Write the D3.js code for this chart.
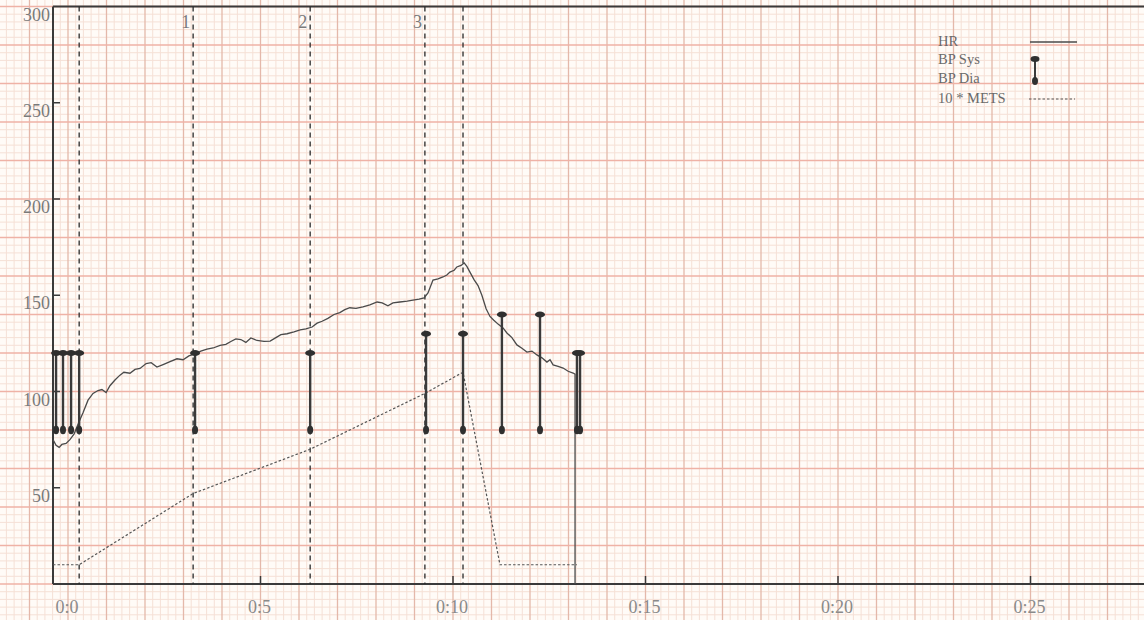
<!DOCTYPE html>
<html>
<head>
<meta charset="utf-8">
<script src="https://cdn.jsdelivr.net/npm/d3@7"></script>
<style>
  html, body { margin: 0; padding: 0; background: #fffbf7; }
  svg { display: block; }
  text { font-family: "Liberation Serif", "DejaVu Serif", serif; }
</style>
</head>
<body>
<svg id="chart" width="1144" height="620"></svg>
<script>
// ---- Data ----
const hrTime = [-0.39,-0.31,-0.23,-0.16,-0.05,0.05,0.16,0.26,0.39,0.52,0.65,0.78,0.88,0.99,1.09,1.22,1.35,1.45,1.61,1.74,1.87,2.03,2.16,2.31,2.47,2.65,2.83,2.99,3.14,3.30,3.45,3.61,3.77,3.95,4.10,4.23,4.36,4.49,4.62,4.75,4.91,5.09,5.25,5.40,5.53,5.69,5.87,6.03,6.18,6.34,6.47,6.60,6.75,6.91,7.06,7.19,7.32,7.48,7.66,7.84,8.03,8.16,8.31,8.44,8.62,8.81,8.96,9.12,9.25,9.35,9.48,9.61,9.74,9.84,9.92,10.03,10.10,10.21,10.29,10.36,10.44,10.55,10.65,10.75,10.86,10.96,11.06,11.17,11.30,11.40,11.53,11.66,11.79,11.92,12.05,12.18,12.31,12.44,12.52,12.60,12.73,12.86,12.99,13.12,13.17,13.17];
const hrValue = [75,72,71,72.5,73,75,78,83,89,95.5,99,100.5,101,99.5,103,106,108.5,110,109.5,111.5,112,114.5,115,112.7,114,115.5,117,116.5,118.5,119.5,121,122,122.6,124,124.5,126,127.3,127,125.5,127.8,126.5,126,126.2,128,129.5,130,131,132,132.5,133.5,135.5,136.5,138,140,141,142.5,143.5,143.2,144,145,146.5,146,144.5,146,146.5,147,147.5,148,148.6,151.2,157.9,158.5,159.5,160.5,162,163,164.7,165.5,166.8,165,162,158,155,150,143,139,137,135,133,130.4,128,124.2,122.5,120.5,121,119,117.5,115.3,116.5,113.8,113,112.2,110.5,109.6,109,0];

const metsTime = [-0.39, 0.29, 3.25, 6.29, 9.27, 10.26, 11.22, 13.22];
const metsValue = [10, 10, 47, 70, 99, 110, 10, 10];   // 10 * METS

const bpTime = [-0.31, -0.13, 0.08, 0.29, 3.30, 6.29, 9.30, 10.26, 11.27, 12.26, 13.22, 13.30];
const bpSys  = [120, 120, 120, 120, 120, 120, 130, 130, 140, 140, 120, 120];
const bpDia  = [80, 80, 80, 80, 80, 80, 80, 80, 80, 80, 80, 80];

const stageTimes  = [0.29, 3.25, 6.29, 9.27, 10.26];
const stageLabels = ["", "1", "2", "3", ""];

const yTicks = [50, 100, 150, 200, 250, 300];
const xTicks = [0, 5, 10, 15, 20, 25];
const xTickLabels = ["0:0", "0:5", "0:10", "0:15", "0:20", "0:25"];

const legendLabels = ["HR", "BP Sys", "BP Dia", "10 * METS"];

// ---- Layout ----
const W = 1144, H = 620;
const x = d3.scaleLinear().domain([0, 25]).range([68, 1030.5]);
const y = d3.scaleLinear().domain([0, 300]).range([584, 6.5]);
const left = 53;

const svg = d3.select("#chart");
svg.append("rect").attr("width", W).attr("height", H).attr("fill", "#fffbf7");

// ---- ECG paper grid ----
const tMin = x.invert(0), tMax = x.invert(W);
const vMin = y.invert(H), vMax = y.invert(0);
const g = svg.append("g");
const vk = d3.range(Math.floor(tMin / 0.2), Math.ceil(tMax / 0.2) + 1);
const hk = d3.range(Math.floor(vMin / 4), Math.ceil(vMax / 4) + 1);
[false, true].forEach(major => {
  g.selectAll(null).data(vk.filter(k => (k % 5 === 0) === major)).enter().append("line")
    .attr("x1", k => x(k * 0.2)).attr("x2", k => x(k * 0.2))
    .attr("y1", 0).attr("y2", H)
    .attr("stroke", major ? "#e4b8aa" : "#f5e0d6").attr("stroke-width", major ? 1.3 : 1);
  g.selectAll(null).data(hk.filter(k => (k % 5 === 0) === major)).enter().append("line")
    .attr("y1", k => y(k * 4)).attr("y2", k => y(k * 4))
    .attr("x1", 0).attr("x2", W)
    .attr("stroke", major ? "#efb2a6" : "#f5e0d6").attr("stroke-width", major ? 1.3 : 1);
});

// ---- Axes frame ----
const axisColor = "#3a3a3a";
svg.append("line").attr("x1", left).attr("x2", W).attr("y1", y(300)).attr("y2", y(300))
  .attr("stroke", axisColor).attr("stroke-width", 2);
svg.append("line").attr("x1", left).attr("x2", left).attr("y1", y(300)).attr("y2", y(0))
  .attr("stroke", axisColor).attr("stroke-width", 2);
svg.append("line").attr("x1", left).attr("x2", W).attr("y1", y(0)).attr("y2", y(0))
  .attr("stroke", axisColor).attr("stroke-width", 2);

// y ticks (inside) and labels
svg.selectAll(".ytick").data(yTicks.filter(v => v < 300)).enter().append("line")
  .attr("x1", left).attr("x2", left + 7).attr("y1", d => y(d)).attr("y2", d => y(d))
  .attr("stroke", axisColor).attr("stroke-width", 1.5);
svg.selectAll(".ylab").data(yTicks).enter().append("text")
  .attr("x", left - 3).attr("y", d => y(d) + 14)
  .attr("text-anchor", "end").attr("font-size", 18).attr("fill", "#7a7a7a")
  .text(d => d);

// x ticks and labels
svg.selectAll(".xtick").data(xTicks.filter(t => t > 0)).enter().append("line")
  .attr("x1", d => x(d)).attr("x2", d => x(d)).attr("y1", y(0) - 8).attr("y2", y(0))
  .attr("stroke", axisColor).attr("stroke-width", 1.5);
svg.selectAll(".xlab").data(xTicks).enter().append("text")
  .attr("x", d => x(d) - 1).attr("y", y(0) + 29)
  .attr("text-anchor", "middle").attr("font-size", 18).attr("fill", "#8a8a8a")
  .text((d, i) => xTickLabels[i]);

// ---- Stage dashed lines ----
svg.selectAll(".stage").data(stageTimes).enter().append("line")
  .attr("x1", d => x(d)).attr("x2", d => x(d)).attr("y1", y(300)).attr("y2", y(0))
  .attr("stroke", "#2a2a2a").attr("stroke-width", 1.3).attr("stroke-dasharray", "5,4");
svg.selectAll(".stlab").data(stageTimes).enter().append("text")
  .attr("x", d => x(d) - 3).attr("y", 28)
  .attr("text-anchor", "end").attr("font-size", 18).attr("fill", "#7a7a7a")
  .text((d, i) => stageLabels[i]);

// ---- METS (dotted) ----
const metsLine = d3.line().x((d, i) => x(metsTime[i])).y(d => y(d));
svg.append("path").attr("d", metsLine(metsValue))
  .attr("fill", "none").attr("stroke", "#555").attr("stroke-width", 1.2)
  .attr("stroke-dasharray", "2.5,2");

// ---- HR line ----
const hrLine = d3.line().x((d, i) => x(hrTime[i])).y(d => y(d));
svg.append("path").attr("d", hrLine(hrValue))
  .attr("fill", "none").attr("stroke", "#4a4a4a").attr("stroke-width", 1.3);

// ---- BP markers ----
const bp = svg.append("g");
bpTime.forEach((t, i) => {
  bp.append("line").attr("x1", x(t)).attr("x2", x(t))
    .attr("y1", y(bpSys[i])).attr("y2", y(bpDia[i]))
    .attr("stroke", "#3a3a3a").attr("stroke-width", 2.4);
});
bpTime.forEach((t, i) => {
  bp.append("ellipse").attr("cx", x(t)).attr("cy", y(bpSys[i]))
    .attr("rx", 5).attr("ry", 3).attr("fill", "#2f2f2f");
  bp.append("ellipse").attr("cx", x(t)).attr("cy", y(bpDia[i]))
    .attr("rx", 3).attr("ry", 4.2).attr("fill", "#2f2f2f");
});

// ---- Legend ----
const lg = svg.append("g");
const lgY = [46, 64, 83, 103];
lg.selectAll("text").data(legendLabels).enter().append("text")
  .attr("x", 938).attr("y", (d, i) => lgY[i])
  .attr("font-size", 14.5).attr("fill", "#6a6a6a").text(d => d);
lg.append("line").attr("x1", 1030).attr("x2", 1077).attr("y1", 42).attr("y2", 42)
  .attr("stroke", "#4a4a4a").attr("stroke-width", 1.3);
lg.append("line").attr("x1", 1035).attr("x2", 1035).attr("y1", 59).attr("y2", 81)
  .attr("stroke", "#3a3a3a").attr("stroke-width", 2);
lg.append("ellipse").attr("cx", 1035).attr("cy", 59).attr("rx", 4.5).attr("ry", 3).attr("fill", "#2f2f2f");
lg.append("ellipse").attr("cx", 1035).attr("cy", 81).attr("rx", 3).attr("ry", 4).attr("fill", "#2f2f2f");
lg.append("line").attr("x1", 1029).attr("x2", 1075).attr("y1", 99).attr("y2", 99)
  .attr("stroke", "#555").attr("stroke-width", 1.2).attr("stroke-dasharray", "2.5,2");
</script>
</body>
</html>
